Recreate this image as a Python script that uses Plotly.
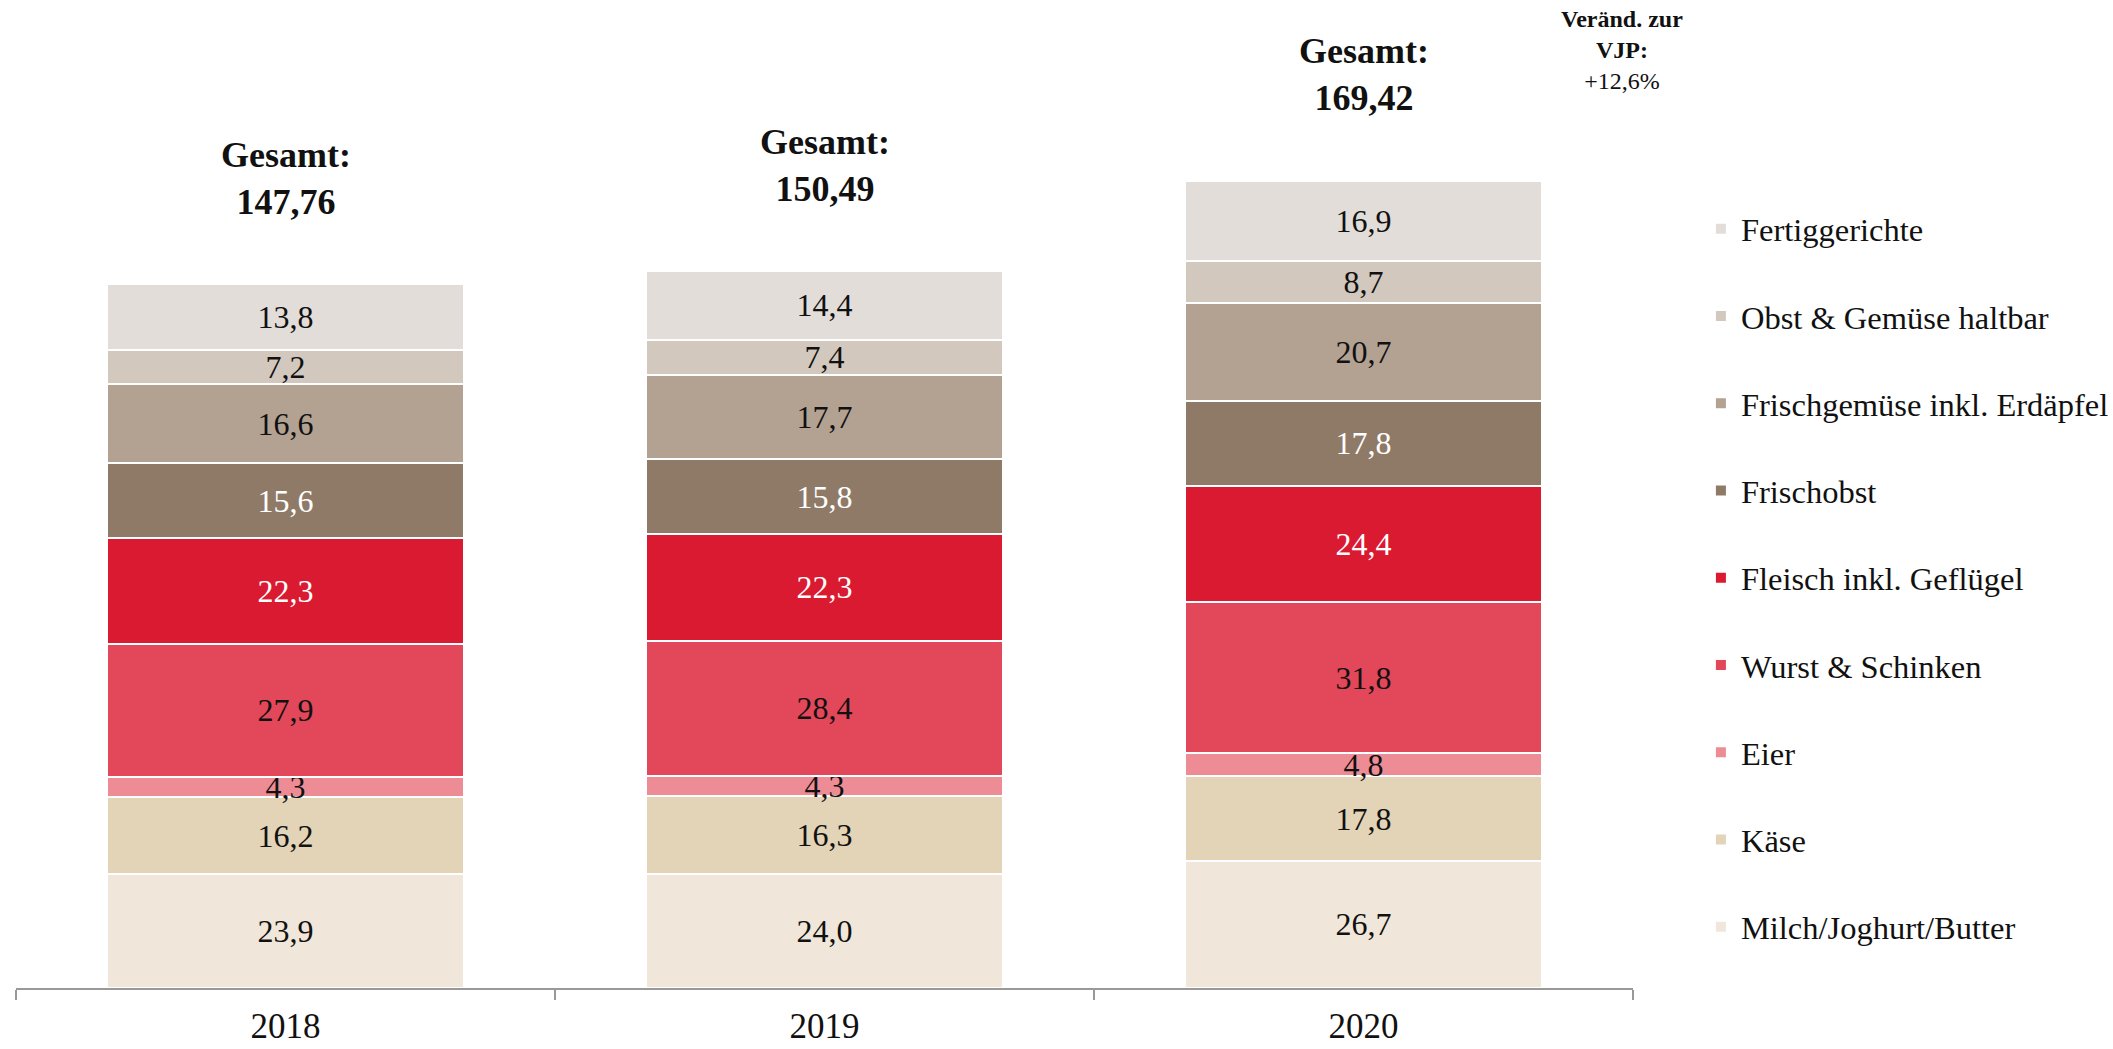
import plotly.graph_objects as go

years = ["2018", "2019", "2020"]
categories = [
    "Milch/Joghurt/Butter", "Käse", "Eier", "Wurst & Schinken",
    "Fleisch inkl. Geflügel", "Frischobst", "Frischgemüse inkl. Erdäpfel",
    "Obst & Gemüse haltbar", "Fertiggerichte",
]
milch = [23.9, 24.0, 26.7]
kaese = [16.2, 16.3, 17.8]
eier = [4.3, 4.3, 4.8]
wurst = [27.9, 28.4, 31.8]
fleisch = [22.3, 22.3, 24.4]
frischobst = [15.6, 15.8, 17.8]
frischgemuese = [16.6, 17.7, 20.7]
obst_haltbar = [7.2, 7.4, 8.7]
fertig = [13.8, 14.4, 16.9]
totals = [147.76, 150.49, 169.42]

series = [milch, kaese, eier, wurst, fleisch, frischobst, frischgemuese, obst_haltbar, fertig]
colors = ["#F0E7DA", "#E3D3B7", "#EE8C95", "#E3475A", "#DA1A30",
          "#8E7A67", "#B3A292", "#D3C8BD", "#E2DDD8"]
text_colors = ["#111", "#111", "#111", "#111", "#FFFFFF", "#FFFFFF", "#111", "#111", "#111"]

FONT = "Liberation Serif"

def de(v, d=1):
    return f"{v:.{d}f}".replace(".", ",")

fig = go.Figure()
n = len(categories)
for i, (name, vals) in enumerate(zip(categories, series)):
    fig.add_trace(go.Bar(
        x=years, y=vals, name=name,
        marker=dict(color=colors[i], line=dict(color="white", width=2)),
        text=[de(v) for v in vals], textposition="inside",
        insidetextanchor="middle", constraintext="none",
        textfont=dict(family=FONT, size=32, color=text_colors[i]),
        legendgroup=name, legendrank=n - i, hoverinfo="skip",
    ))

stack_tops = [sum(s[j] for s in series) for j in range(len(years))]
for j, yr in enumerate(years):
    fig.add_annotation(
        x=j, y=stack_tops[j], yref="y", xref="x",
        text=f"<b>Gesamt:<br>{de(totals[j], 2)}</b>",
        showarrow=False, yanchor="middle", yshift=106,
        font=dict(family=FONT, size=36, color="#111"),
    )

change = (totals[2] / totals[1] - 1) * 100
fig.add_annotation(
    x=(1622 - 16) / 1617, y=(988 - 50) / 958, xref="paper", yref="paper",
    text=f"<b>Veränd. zur<br>VJP:</b><br>+{de(change)}%",
    showarrow=False, yanchor="middle", xanchor="center",
    font=dict(family=FONT, size=24, color="#111"),
)

fig.update_layout(
    width=2113, height=1049,
    margin=dict(l=16, r=480, t=30, b=61, autoexpand=False),
    barmode="stack", bargap=0.338,
    plot_bgcolor="white", paper_bgcolor="white",
    separators=",.",
    showlegend=True,
    legend=dict(
        x=1.042, y=(988 - 201) / 958, xanchor="left", yanchor="top",
        traceorder="grouped", tracegroupgap=42,
        font=dict(family=FONT, size=32.5, color="#111"),
        bgcolor="rgba(0,0,0,0)",
    ),
    xaxis=dict(
        type="category", range=[-0.5, 2.5], autorange=False,
        showline=True, linecolor="#999", linewidth=2,
        ticks="outside", tickson="boundaries", ticklen=10, tickcolor="#999", tickwidth=2,
        ticklabelstandoff=6,
        tickfont=dict(family=FONT, size=35, color="#111"), showgrid=False,
    ),
    yaxis=dict(visible=False, range=[0, 958 / 4.76], showgrid=False),
)

fig.write_html("out.html", config={"displayModeBar": False},
               post_script="document.body.style.margin='0';document.body.style.overflow='hidden';")
